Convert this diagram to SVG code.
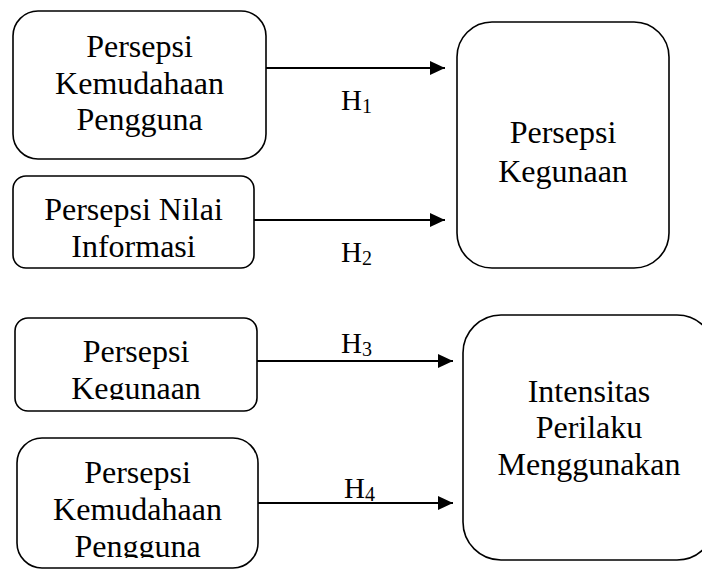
<svg xmlns="http://www.w3.org/2000/svg" width="702" height="570" viewBox="0 0 702 570">
<style>
.box{fill:#fff;stroke:#000;stroke-width:1.6}
.t{font-family:"Liberation Serif","Times New Roman",serif;font-size:32px;fill:#000;text-anchor:middle}
.h{font-family:"Liberation Serif","Times New Roman",serif;font-size:29px;fill:#000}
.sub{font-size:20px}
.conn{stroke:#000;stroke-width:2.2;fill:none;marker-end:url(#ah)}
</style>
<defs>
<marker id="ah" markerUnits="userSpaceOnUse" markerWidth="16" markerHeight="15" refX="15" refY="7" orient="auto">
<path d="M0,0 L15,7 L0,14 Z" fill="#000"/>
</marker>
<clipPath id="c4"><rect x="15" y="318" width="242" height="82"/></clipPath>
<clipPath id="c5"><rect x="17" y="438" width="241" height="120"/></clipPath>
</defs>
<rect width="702" height="570" fill="#fff"/>
<g id="n1">
<rect class="box" x="13" y="11" width="253" height="148" rx="25"/>
<text class="t" x="139.5" y="57">Persepsi</text>
<text class="t" x="139.5" y="94">Kemudahaan</text>
<text class="t" x="139.5" y="130">Pengguna</text>
</g>
<g id="n2">
<rect class="box" x="13" y="176" width="241" height="92" rx="13"/>
<text class="t" x="133.5" y="220">Persepsi Nilai</text>
<text class="t" x="133.5" y="257">Informasi</text>
</g>
<g id="n3">
<rect class="box" x="457" y="22" width="212" height="246" rx="35"/>
<text class="t" x="563" y="143">Persepsi</text>
<text class="t" x="563" y="182">Kegunaan</text>
</g>
<g id="n4">
<rect class="box" x="15" y="318" width="242" height="93" rx="13"/>
<g clip-path="url(#c4)">
<text class="t" x="136" y="362">Persepsi</text>
<text class="t" x="136" y="399">Kegunaan</text>
</g>
</g>
<g id="n5">
<rect class="box" x="17" y="438" width="241" height="130" rx="25"/>
<g clip-path="url(#c5)">
<text class="t" x="137.5" y="483">Persepsi</text>
<text class="t" x="137.5" y="520">Kemudahaan</text>
<text class="t" x="137.5" y="557">Pengguna</text>
</g>
</g>
<g id="n6">
<rect class="box" x="463" y="315" width="252" height="245" rx="38"/>
<text class="t" x="589" y="402">Intensitas</text>
<text class="t" x="589" y="438">Perilaku</text>
<text class="t" x="589" y="475">Menggunakan</text>
</g>
<g id="connectors">
<line class="conn" x1="266" y1="68" x2="445" y2="68"/>
<line class="conn" x1="254" y1="220" x2="445" y2="220"/>
<line class="conn" x1="257" y1="361" x2="453" y2="361"/>
<line class="conn" x1="258" y1="503" x2="453" y2="503"/>
<text class="h" x="341" y="110">H<tspan class="sub" dy="3">1</tspan></text>
<text class="h" x="341" y="262">H<tspan class="sub" dy="3">2</tspan></text>
<text class="h" x="341" y="353">H<tspan class="sub" dy="3">3</tspan></text>
<text class="h" x="344" y="498">H<tspan class="sub" dy="3">4</tspan></text>
</g>
</svg>
